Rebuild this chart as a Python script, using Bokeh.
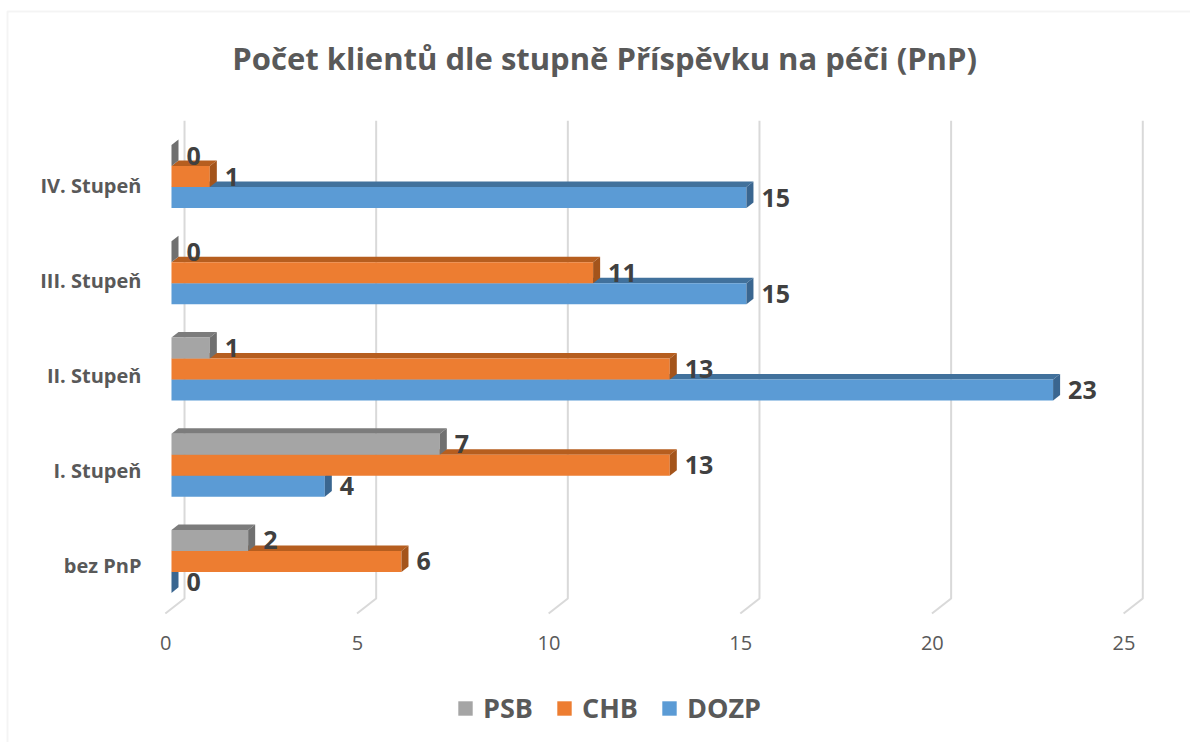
from bokeh.plotting import figure
from bokeh.models import Range1d, FixedTicker, Legend, LegendItem, BoxAnnotation, Label
from bokeh.core.properties import value
from bokeh.embed import file_html
from bokeh.resources import INLINE

# ---- data ----
categories = ["bez PnP", "I. Stupeň", "II. Stupeň", "III. Stupeň", "IV. Stupeň"]
psb = [2, 7, 1, 0, 0]
chb = [6, 13, 13, 11, 1]
dozp = [0, 4, 23, 15, 15]
series_names = ["PSB", "CHB", "DOZP"]
x_ticks = [0, 5, 10, 15, 20, 25]
chart_title = "Počet klientů dle stupně Příspěvku na péči (PnP)"

# ---- styles ----
FONT = "Open Sans"
front_colors = {"PSB": "#a5a5a5", "CHB": "#ed7d31", "DOZP": "#5b9bd5"}
top_colors = {"PSB": "#7c7c7c", "CHB": "#b65e1f", "DOZP": "#41719c"}
side_colors = {"PSB": "#707070", "CHB": "#a4541b", "DOZP": "#3a6690"}
bar_h = 0.218
dx, dy = 0.183, 0.058  # 3D depth in data units
series_vals = {"PSB": psb, "CHB": chb, "DOZP": dozp}
series_off = {"PSB": bar_h, "CHB": 0.0, "DOZP": -bar_h}

p = figure(width=1190, height=742, output_backend="svg", toolbar_location=None,
           x_range=Range1d(-4.461, 26.585), y_range=Range1d(-1.881, 5.829),
           min_border_left=0, min_border_right=0, min_border_top=0, min_border_bottom=0)
p.outline_line_color = None
p.background_fill_color = "white"
p.border_fill_color = "white"
p.xgrid.visible = False
p.ygrid.visible = False

# chart border (top / left)
p.add_layout(BoxAnnotation(left=7, right=1400, top=11, bottom=1000,
                           left_units="canvas", right_units="canvas",
                           top_units="canvas", bottom_units="canvas",
                           fill_alpha=0, line_color="#d9d9d9", line_width=2))

# back-wall gridlines with floor stubs
g_xs = [[t - 0.16, t + 0.34, t + 0.34] for t in x_ticks]
g_ys = [[-0.54, -0.384, 4.58] for t in x_ticks]
p.multi_line(g_xs, g_ys, line_color="#d9d9d9", line_width=2)

legend_items = {}
for name in ["DOZP", "CHB", "PSB"]:
    vals = series_vals[name]
    off = series_off[name]
    bottoms = [i + off - bar_h / 2 for i in range(len(categories))]
    tops = [i + off + bar_h / 2 for i in range(len(categories))]
    # top faces
    txs = [[0, v, v + dx, dx] for v in vals]
    tys = [[t, t, t + dy, t + dy] for t in tops]
    p.patches(txs, tys, fill_color=top_colors[name], line_color=None)
    # front faces
    r = p.quad(left=[0] * len(vals), right=vals, bottom=bottoms, top=tops,
               fill_color=front_colors[name], line_color=None)
    legend_items[name] = r
    # side faces
    sxs = [[v, v, v + dx, v + dx] for v in vals]
    sys_ = [[b, t, t + dy, b + dy] for b, t in zip(bottoms, tops)]
    p.patches(sxs, sys_, fill_color=side_colors[name], line_color=None)

# data labels
for name in ["DOZP", "CHB", "PSB"]:
    vals = series_vals[name]
    off = series_off[name]
    ys = [i + off for i in range(len(categories))]
    p.text(x=vals, y=ys, text=[str(v) for v in vals], x_offset=15,
           text_align="left", text_baseline="middle",
           text_font=value(FONT), text_font_style="bold",
           text_font_size="25px", text_color="#404040")

# axes (drawn inside the frame at fixed positions)
y_ticks = [round(i - 0.042 - 0.013 * i, 3) for i in range(len(categories))]
p.yaxis.ticker = FixedTicker(ticks=y_ticks)
p.yaxis.major_label_overrides = {t: c for t, c in zip(y_ticks, categories)}
p.yaxis.fixed_location = -0.548
xt = [round(t - 0.15, 2) for t in x_ticks]
p.xaxis.ticker = FixedTicker(ticks=xt)
p.xaxis.major_label_overrides = {a: str(t) for a, t in zip(xt, x_ticks)}
p.xaxis.fixed_location = -0.665
for ax in (p.xaxis, p.yaxis):
    ax.axis_line_color = None
    ax.major_tick_line_color = None
    ax.minor_tick_line_color = None
    ax.major_tick_out = 0
    ax.major_tick_in = 0
    ax.minor_tick_out = 0
    ax.major_label_text_font = FONT
    ax.major_label_text_color = "#595959"
p.yaxis.major_label_text_font_size = "20px"
p.yaxis.major_label_text_font_style = "bold"
p.yaxis.major_label_standoff = 9
p.xaxis.major_label_text_font_size = "20px"
p.xaxis.major_label_standoff = 11

# title
p.add_layout(Label(x=11.3, y=5.236, text=chart_title, text_align="center",
                   text_baseline="middle", text_font=FONT, text_font_size="31px",
                   text_font_style="bold", text_color="#595959"))

legend = Legend(items=[LegendItem(label=n, renderers=[legend_items[n]]) for n in series_names],
                orientation="horizontal", location=(456, 16), margin=0, padding=10,
                label_text_font=FONT, label_text_font_size="27px",
                label_text_font_style="bold", label_text_color="#595959",
                glyph_width=18, glyph_height=18, spacing=22, label_standoff=9,
                border_line_color=None, background_fill_alpha=0)
p.add_layout(legend, "center")

open("out.html", "w").write(file_html(p, INLINE))
